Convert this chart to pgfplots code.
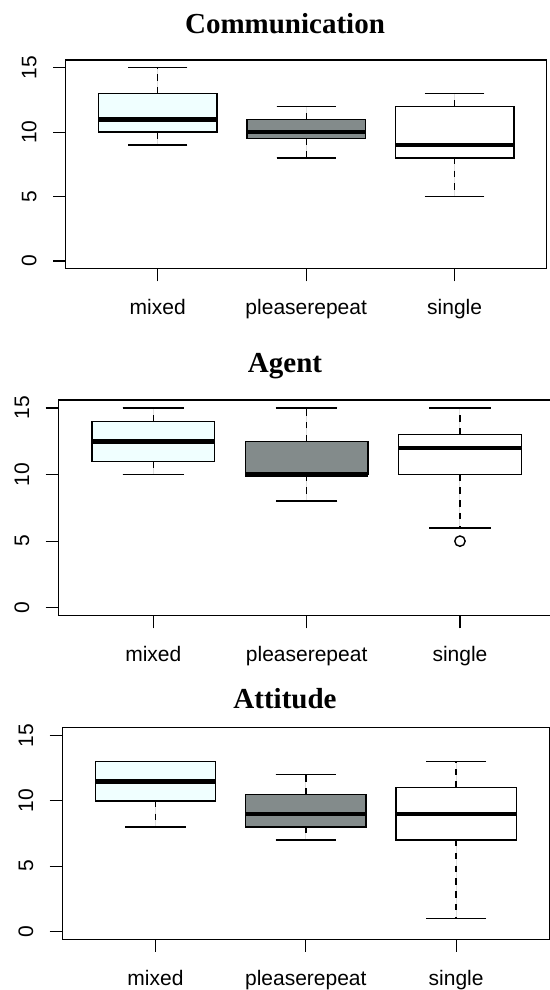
\documentclass[border=0pt]{standalone}
\usepackage{fontspec}
\setmainfont{Liberation Sans}
\newfontfamily\titlefont{Liberation Serif}
\usepackage{pgfplots}
\pgfplotsset{compat=1.18}
\usepgfplotslibrary{statistics}

\definecolor{azurefill}{HTML}{F0FFFF}
\definecolor{azuredark}{HTML}{838B8B}

\pgfplotsset{
  rpanel/.style={
    scale only axis,
    anchor=south west,
    xmin=0.38, xmax=3.62,
    ymin=-0.6, ymax=15.6,
    xtick={1,2,3},
    xticklabels={mixed,pleaserepeat,single},
    ytick={0,5,10,15},
    xtick pos=bottom, ytick pos=left,
    tick align=outside,
    major tick length=6.3pt,
    tick style={black, line width=0.6pt},
    axis line style={line width=0.6pt},
    tick label style={font=\fontsize{10.5}{12}\selectfont},
    /pgf/number format/assume math mode=true,
    yticklabel style={rotate=90, anchor=base, inner sep=0pt},
    xticklabel style={anchor=base, inner sep=0pt},
    xticklabel shift=16.8pt,
    yticklabel shift=8.3pt,
    boxplot/draw direction=y,
    boxplot/box extend=0.8,
    boxplot/whisker extend=0.4,
    boxplot/every median/.style={line width=2.3pt},
    boxplot/draw/lower whisker/.code={
      \draw[black, line width=0.7pt, dash pattern=on 3.2pt off 3.2pt]
        (boxplot box cs:\pgfplotsboxplotvalue{lower quartile},0.5) --
        (boxplot box cs:\pgfplotsboxplotvalue{lower whisker},0.5);
      \draw[black, line width=0.7pt, solid]
        (boxplot whisker cs:\pgfplotsboxplotvalue{lower whisker},0) --
        (boxplot whisker cs:\pgfplotsboxplotvalue{lower whisker},1);
    },
    boxplot/draw/upper whisker/.code={
      \draw[black, line width=0.7pt, dash pattern=on 3.2pt off 3.2pt]
        (boxplot box cs:\pgfplotsboxplotvalue{upper quartile},0.5) --
        (boxplot box cs:\pgfplotsboxplotvalue{upper whisker},0.5);
      \draw[black, line width=0.7pt, solid]
        (boxplot whisker cs:\pgfplotsboxplotvalue{upper whisker},0) --
        (boxplot whisker cs:\pgfplotsboxplotvalue{upper whisker},1);
    },
  },
  rbox/.style={draw=black, line width=0.7pt, solid, mark=o, mark size=2.6pt,
    mark options={solid, line width=0.7pt}},
}

\begin{document}
\begin{tikzpicture}
\useasboundingbox (0,0) rectangle (275pt,495pt);
\clip (0,0) rectangle (275pt,495pt);

% Communication
\begin{axis}[rpanel, at={(32.85pt,360.65pt)}, width=240.5pt, height=104.35pt]
  \addplot[rbox, fill=azurefill, boxplot prepared={draw position=1,
    lower whisker=9, lower quartile=10, median=11, upper quartile=13, upper whisker=15}]
    coordinates {};
  \addplot[rbox, fill=azuredark, boxplot prepared={draw position=2,
    lower whisker=8, lower quartile=9.5, median=10, upper quartile=11, upper whisker=12}]
    coordinates {};
  \addplot[rbox, fill=white, boxplot prepared={draw position=3,
    lower whisker=5, lower quartile=8, median=9, upper quartile=12, upper whisker=13}]
    coordinates {};
\end{axis}

% Agent
\begin{axis}[rpanel, at={(29.15pt,187.15pt)}, width=248.35pt, height=107.85pt]
  \addplot[rbox, fill=azurefill, boxplot prepared={draw position=1,
    lower whisker=10, lower quartile=11, median=12.5, upper quartile=14, upper whisker=15}]
    coordinates {};
  \addplot[rbox, fill=azuredark, boxplot prepared={draw position=2,
    lower whisker=8, lower quartile=10, median=10, upper quartile=12.5, upper whisker=15}]
    coordinates {};
  \addplot[rbox, fill=white, boxplot prepared={draw position=3,
    lower whisker=6, lower quartile=10, median=12, upper quartile=13, upper whisker=15}]
    table[row sep=\\, y index=0] {y\\ 5\\};
\end{axis}

% Attitude
\begin{axis}[rpanel, at={(31.15pt,25.35pt)}, width=243.5pt, height=105.8pt]
  \addplot[rbox, fill=azurefill, boxplot prepared={draw position=1,
    lower whisker=8, lower quartile=10, median=11.5, upper quartile=13, upper whisker=13}]
    coordinates {};
  \addplot[rbox, fill=azuredark, boxplot prepared={draw position=2,
    lower whisker=7, lower quartile=8, median=9, upper quartile=10.5, upper whisker=12}]
    coordinates {};
  \addplot[rbox, fill=white, boxplot prepared={draw position=3,
    lower whisker=1, lower quartile=7, median=9, upper quartile=11, upper whisker=13}]
    coordinates {};
\end{axis}

\node[anchor=base, font=\fontsize{14.5}{17}\titlefont\bfseries] at (142.5pt,478.35pt) {Communication};
\node[anchor=base, font=\fontsize{14.5}{17}\titlefont\bfseries] at (142.5pt,308.5pt) {Agent};
\node[anchor=base, font=\fontsize{14.5}{17}\titlefont\bfseries] at (142.5pt,140.85pt) {Attitude};
\end{tikzpicture}
\end{document}
